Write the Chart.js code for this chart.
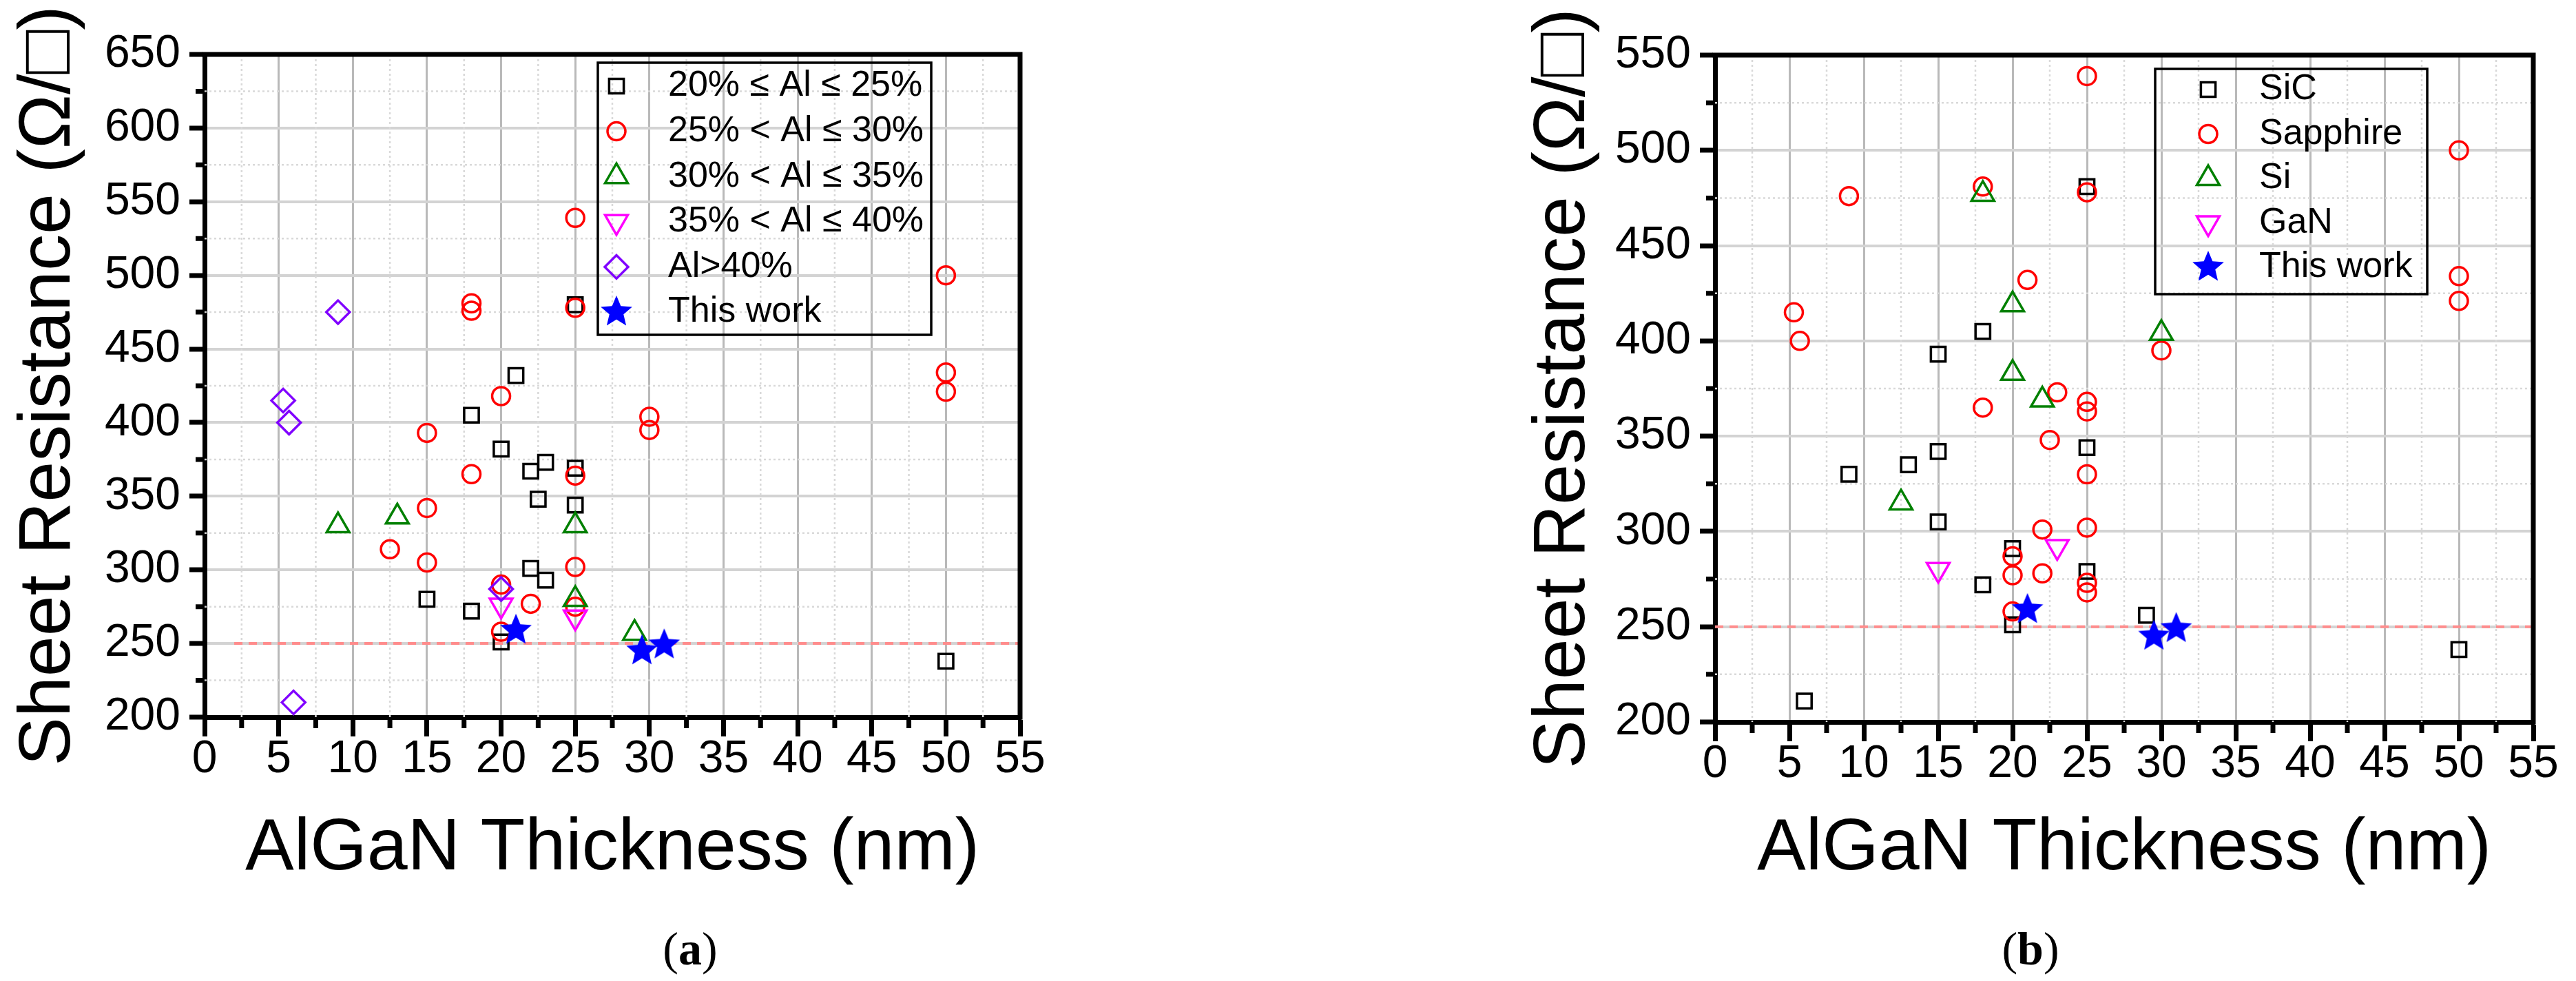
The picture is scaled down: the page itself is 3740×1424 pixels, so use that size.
<!DOCTYPE html>
<html>
<head>
<meta charset="utf-8">
<script src="https://cdn.jsdelivr.net/npm/chart.js@4.4.1/dist/chart.umd.min.js"></script>
<style>
    html, body { margin: 0; padding: 0; background: #fff; }
    body { width: 3740px; height: 1424px; position: relative; overflow: hidden; }
    canvas { position: absolute; top: 0; }
    #chartA { left: 0; }
    #chartB { left: 2193px; }
    .caption {
        position: absolute;
        top: 1338px;
        font-family: 'Liberation Serif', 'Times New Roman', serif;
        font-size: 68px;
        transform: translateX(-50%);
        color: #000;
    }
</style>
</head>
<body>
<canvas id="chartA" width="1560" height="1340"></canvas>
<canvas id="chartB" width="1547" height="1340"></canvas>
<div class="caption" style="left:1002px">(<b>a</b>)</div>
<div class="caption" style="left:2948px">(<b>b</b>)</div>
<script>
// Axis ticks (shared thickness axis, two resistance ranges)
const thicknessTicks = [0, 5, 10, 15, 20, 25, 30, 35, 40, 45, 50, 55];
const thicknessMinor = [2.5, 7.5, 12.5, 17.5, 22.5, 27.5, 32.5, 37.5, 42.5, 47.5, 52.5];
const resistanceTicksA = [200, 250, 300, 350, 400, 450, 500, 550, 600, 650];
const resistanceMinorA = [225, 275, 325, 375, 425, 475, 525, 575, 625];
const resistanceTicksB = [200, 250, 300, 350, 400, 450, 500, 550];
const resistanceMinorB = [225, 275, 325, 375, 425, 475, 525];

// Panel (a): grouped by Al content
const alLabels = ['20% ≤ Al ≤ 25%', '25% < Al ≤ 30%', '30% < Al ≤ 35%', '35% < Al ≤ 40%', 'Al>40%', 'This work'];

const al20to25X = [15, 18, 18, 20, 20, 21, 22, 22, 22.5, 23, 23, 25, 25, 25, 50];
const al20to25Y = [280, 405, 272, 382, 251, 432, 367, 301, 348, 373, 293, 480, 369, 344, 238];

const al25to30X = [12.5, 15, 15, 15, 18, 18, 18, 20, 20, 20, 22, 25, 25, 25, 25, 25, 30, 30, 50, 50, 50];
const al25to30Y = [314, 393, 342, 305, 481, 476, 365, 418, 290, 258, 277, 539, 478, 364, 302, 275, 404, 395, 500, 434, 421];

const al30to35X = [9, 13, 25, 25, 29];
const al30to35Y = [330, 336, 330, 280, 257];

const al35to40X = [20, 25];
const al35to40Y = [276, 268];

const alOver40X = [5.3, 5.7, 6, 9, 20];
const alOver40Y = [415, 400, 210, 475, 287];

// Panel (b): grouped by substrate
const substrateLabels = ['SiC', 'Sapphire', 'Si', 'GaN', 'This work'];

const sicX = [6, 9, 13, 15, 15, 15, 18, 18, 20, 20, 25, 25, 25, 29, 50];
const sicY = [211, 330, 335, 393, 342, 305, 405, 272, 291, 251, 481, 344, 279, 256, 238];

const sapphireX = [5.3, 5.7, 9, 18, 18, 20, 20, 20, 21, 22, 22, 22.5, 23, 25, 25, 25, 25, 25, 25, 25, 25, 30, 50, 50, 50];
const sapphireY = [415, 400, 476, 481, 365, 287, 277, 258, 432, 301, 278, 348, 373, 539, 478, 368, 363, 330, 302, 273, 268, 395, 500, 434, 421];

const siX = [12.5, 18, 20, 20, 22, 30];
const siY = [315, 477, 419, 383, 369, 404];

const ganX = [15, 23];
const ganY = [280, 292];

// This work (same in both panels)
const thisWorkX = [21, 29.5, 31];
const thisWorkY = [259, 245, 249];

// 250 Ω/□ reference line
const refLineAX = [2, 55];
const refLineBX = [0, 55];
const refLineY = [250, 250];

const FONT = "'Liberation Sans', Arial, sans-serif";

/**
 * Zip x and y arrays into scatter points
 */
function pts(xs, ys) {
    return xs.map((x, i) => ({ x: x, y: ys[i] }));
}

/**
 * Filled five-point star used as an image point style
 */
function makeStar(R, color) {
    const c = document.createElement('canvas');
    const size = Math.ceil(R * 2 + 2);
    c.width = size;
    c.height = size;
    const g = c.getContext('2d');
    g.fillStyle = color;
    g.beginPath();
    for (let i = 0; i < 10; i++) {
        const r = i % 2 ? R * 0.45 : R;
        const a = -Math.PI / 2 + i * Math.PI / 5;
        g.lineTo(size / 2 + r * Math.cos(a), size / 2 + r * Math.sin(a));
    }
    g.closePath();
    g.fill();
    return c;
}

const starImg = makeStar(24, '#0000ff');

const markers = {
    square:   { shape: 'rect', radius: 15, rotation: 0, color: '#000000' },
    circle:   { shape: 'circle', radius: 13, rotation: 0, color: '#ff0000' },
    triUp:    { shape: 'triangle', radius: 19, rotation: 0, color: '#008000' },
    triDown:  { shape: 'triangle', radius: 19, rotation: 180, color: '#ff00ff' },
    diamond:  { shape: 'rectRot', radius: 17, rotation: 0, color: '#8000ff' },
    star:     { shape: starImg, radius: 24, rotation: 0, color: '#0000ff' }
};

function markerSet(label, xs, ys, m, order) {
    return {
        label: label,
        data: pts(xs, ys),
        pointStyle: m.shape,
        pointRadius: m.radius,
        pointRotation: m.rotation,
        pointBorderColor: m.color,
        borderColor: m.color,
        pointBackgroundColor: 'rgba(0,0,0,0)',
        backgroundColor: 'rgba(0,0,0,0)',
        pointBorderWidth: 3.5,
        order: order
    };
}

function refLine(xs) {
    return {
        label: '',
        data: pts(xs, refLineY),
        showLine: true,
        borderColor: '#ff8c8c',
        borderWidth: 4,
        borderDash: [12, 9],
        pointRadius: 0,
        order: 20
    };
}

/**
 * Minor grid, minor ticks, top/right frame and boxed legend
 */
const originFrame = {
    id: 'originFrame',
    beforeDatasetsDraw(chart, args, opts) {
        const { ctx, chartArea: a, scales: { x, y } } = chart;
        ctx.save();
        ctx.strokeStyle = '#d9d9d9';
        ctx.lineWidth = 2.5;
        ctx.setLineDash([3, 4]);
        ctx.beginPath();
        opts.minorX.forEach(v => {
            const px = x.getPixelForValue(v);
            ctx.moveTo(px, a.top);
            ctx.lineTo(px, a.bottom);
        });
        opts.minorY.forEach(v => {
            const py = y.getPixelForValue(v);
            ctx.moveTo(a.left, py);
            ctx.lineTo(a.right, py);
        });
        ctx.stroke();
        ctx.restore();
    },
    afterDraw(chart, args, opts) {
        const { ctx, chartArea: a, scales: { x, y } } = chart;
        ctx.save();
        ctx.strokeStyle = '#000';
        ctx.setLineDash([]);
        // minor ticks, outside
        ctx.lineWidth = 7;
        ctx.beginPath();
        opts.minorX.forEach(v => {
            const px = x.getPixelForValue(v);
            ctx.moveTo(px, a.bottom);
            ctx.lineTo(px, a.bottom + 16);
        });
        opts.minorY.forEach(v => {
            const py = y.getPixelForValue(v);
            ctx.moveTo(a.left, py);
            ctx.lineTo(a.left - 13, py);
        });
        ctx.stroke();
        // top and right frame
        ctx.beginPath();
        ctx.moveTo(a.left - 3.5, a.top);
        ctx.lineTo(a.right, a.top);
        ctx.lineTo(a.right, a.bottom + 3.5);
        ctx.stroke();

        // legend box
        const box = opts.legend;
        ctx.lineWidth = 3.5;
        ctx.strokeRect(box.left, box.top, box.width, box.height);
        ctx.font = box.fontSize + 'px ' + FONT;
        ctx.textBaseline = 'middle';
        ctx.textAlign = 'left';
        let row = 0;
        chart.data.datasets.forEach(ds => {
            if (!ds.label) return;
            const ry = box.firstRow + row * box.rowStep;
            ctx.strokeStyle = ds.pointBorderColor;
            ctx.fillStyle = ds.pointBackgroundColor;
            ctx.lineWidth = ds.pointBorderWidth;
            Chart.helpers.drawPoint(ctx, {
                pointStyle: ds.pointStyle,
                radius: ds.pointRadius,
                rotation: ds.pointRotation,
                borderWidth: ds.pointBorderWidth
            }, box.symbolX, ry);
            ctx.fillStyle = '#000';
            ctx.fillText(ds.label, box.textX, ry);
            row++;
        });
        ctx.restore();
    }
};

/**
 * Build one panel
 */
function buildPanel(cfg) {
    return new Chart(document.getElementById(cfg.canvas), {
        type: 'scatter',
        data: { datasets: cfg.datasets },
        options: {
            responsive: false,
            animation: false,
            devicePixelRatio: 1,
            events: [],
            layout: { padding: { top: cfg.padTop, right: cfg.padRight, left: 0, bottom: 0 } },
            plugins: {
                legend: { display: false },
                tooltip: { enabled: false },
                originFrame: { minorX: thicknessMinor, minorY: cfg.yMinor, legend: cfg.legend }
            },
            scales: {
                x: {
                    type: 'linear',
                    min: 0,
                    max: 55,
                    afterBuildTicks: s => { s.ticks = thicknessTicks.map(v => ({ value: v })); },
                    afterFit: s => { s.height = cfg.xAxisHeight; },
                    ticks: {
                        autoSkip: false,
                        maxRotation: 0,
                        padding: 1,
                        color: '#000',
                        font: { size: 66, family: FONT, lineHeight: 1 }
                    },
                    grid: { color: '#b9b9b9', lineWidth: 3, tickColor: '#000', tickWidth: 7, tickLength: 28 },
                    border: { color: '#000', width: 7 },
                    title: {
                        display: true,
                        text: 'AlGaN Thickness (nm)',
                        color: '#000',
                        font: { size: 106, family: FONT },
                        padding: { top: 0, bottom: cfg.xTitlePad }
                    }
                },
                y: {
                    type: 'linear',
                    min: cfg.yTicks[0],
                    max: cfg.yTicks[cfg.yTicks.length - 1],
                    afterBuildTicks: s => { s.ticks = cfg.yTicks.map(v => ({ value: v })); },
                    afterFit: s => { s.width = 297; },
                    ticks: {
                        padding: 13,
                        color: '#000',
                        font: { size: 66, family: FONT, lineHeight: 1 }
                    },
                    grid: { color: '#d3d3d3', lineWidth: 4, tickColor: '#000', tickWidth: 7, tickLength: 22 },
                    border: { color: '#000', width: 7 },
                    title: {
                        display: true,
                        text: 'Sheet Resistance (Ω/□)',
                        color: '#000',
                        font: { size: 106, family: FONT },
                        padding: { top: cfg.yTitlePad, bottom: 0 }
                    }
                }
            }
        },
        plugins: [originFrame]
    });
}

const datasetsA = [
    markerSet(alLabels[0], al20to25X, al20to25Y, markers.square, 5),
    markerSet(alLabels[1], al25to30X, al25to30Y, markers.circle, 4),
    markerSet(alLabels[2], al30to35X, al30to35Y, markers.triUp, 3),
    markerSet(alLabels[3], al35to40X, al35to40Y, markers.triDown, 2),
    markerSet(alLabels[4], alOver40X, alOver40Y, markers.diamond, 1),
    markerSet(alLabels[5], thisWorkX, thisWorkY, markers.star, 0),
    refLine(refLineAX)
];

const datasetsB = [
    markerSet(substrateLabels[0], sicX, sicY, markers.square, 4),
    markerSet(substrateLabels[1], sapphireX, sapphireY, markers.circle, 3),
    markerSet(substrateLabels[2], siX, siY, markers.triUp, 2),
    markerSet(substrateLabels[3], ganX, ganY, markers.triDown, 1),
    markerSet(substrateLabels[4], thisWorkX, thisWorkY, markers.star, 0),
    refLine(refLineBX)
];

buildPanel({
    canvas: 'chartA',
    datasets: datasetsA,
    yTicks: resistanceTicksA,
    yMinor: resistanceMinorA,
    padTop: 79,
    padRight: 79,
    xAxisHeight: 299,
    xTitlePad: 44,
    yTitlePad: 8,
    legend: { left: 868, top: 91, width: 484, height: 395, firstRow: 125, rowStep: 65.6, symbolX: 895, textX: 970, fontSize: 52 }
});

buildPanel({
    canvas: 'chartB',
    datasets: datasetsB,
    yTicks: resistanceTicksB,
    yMinor: resistanceMinorB,
    padTop: 80,
    padRight: 62,
    xAxisHeight: 292,
    xTitlePad: 44,
    yTitlePad: 14,
    legend: { left: 936, top: 100, width: 395, height: 327, firstRow: 130, rowStep: 64.5, symbolX: 1013, textX: 1087, fontSize: 52 }
});
</script>
</body>
</html>
